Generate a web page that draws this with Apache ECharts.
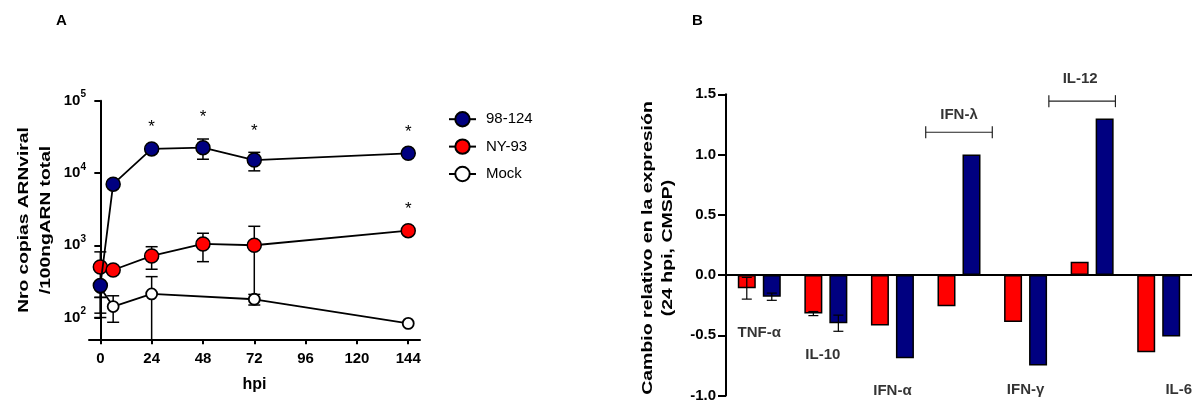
<!DOCTYPE html>
<html><head><meta charset="utf-8">
<script src="https://cdn.jsdelivr.net/npm/echarts@6/dist/echarts.min.js"></script>
<style>html,body{margin:0;padding:0;background:#fff}#c{width:1192px;height:403px}</style>
</head><body><div id="c"></div>
<script>
// ---------- Panel A data ----------
const hpi = [0, 6, 24, 48, 72, 144];
const xTicksA = [0, 24, 48, 72, 96, 120, 144];
const yDecadesA = [100, 1000, 10000, 100000];
const v98 = [277, 7000, 21500, 22400, 15100, 18700];
const v98Lo = [100, null, null, 15500, 10700, null];
const v98Hi = [null, null, null, 29500, 19300, null];
const vNY = [500, 455, 711, 1042, 1000, 1592];
const vNYLo = [190, null, 466, 593, 180, null];
const vNYHi = [810, null, 955, 1466, 1830, null];
const vMock = [260, 142, 212, null, 179, 83];
const vMockLo = [115, 86, 30, null, 149, null];
const vMockHi = [190, 200, 368, null, 209, null];
const sig98 = [false, false, true, true, true, true];
const sigNY = [false, false, false, false, false, true];
const namesA = ['98-124', 'NY-93', 'Mock'];

// ---------- Panel B data ----------
const cytokines = ['TNF-α', 'IL-10', 'IFN-α', 'IFN-λ', 'IFN-γ', 'IL-12', 'IL-6'];
const bRed = [-0.11, -0.32, -0.42, -0.26, -0.39, 0.11, -0.64];
const bBlue = [-0.18, -0.40, -0.69, 1.00, -0.75, 1.30, -0.51];
const bRedErr = [0.09, 0.017, null, null, null, null, null];
const bBlueErr = [0.03, 0.067, null, null, null, null, null];
const catLabelY = [-0.48, -0.66, -0.96, 1.33, -0.95, 1.63, -0.95];
const bracketCats = ['IFN-λ', 'IL-12'];
const bracketY = [1.185, 1.443];

// ---------- styling ----------
const FONT = 'Liberation Sans, Arial, Helvetica, sans-serif';
const NAVY = '#000080', RED = '#ff0000';
const gA = {left: 89, top: 100.7, width: 331, height: 238.6};
const gB = {left: 726, top: 94.3, width: 481, height: 302.5};
const minA = Math.log10(50), maxA = 5;
const pxPerDecade = gA.height / (maxA - minA);
const L = Math.log10;
const labelShift = {'IL-10': -3, 'IL-12': -12, 'IL-6': 20};
const bracketShift = {'IL-12': -10};
const BAR_W = 18, BAR_GAP = 7;

function lineData(vals, sig, hi) {
  const out = [];
  vals.forEach((v, i) => {
    if (v == null) return;
    const extra = hi[i] != null ? Math.max(0, L(hi[i]) - L(v)) * pxPerDecade : 0;
    out.push({
      value: [hpi[i], L(v)],
      label: {show: sig ? sig[i] : false, formatter: '*', position: 'top',
              distance: 5 + extra, fontSize: 17, color: '#000', fontFamily: FONT}
    });
  });
  return out;
}
function errData(vals, lo, hi) {
  const out = [];
  vals.forEach((v, i) => {
    if (v == null) return;
    if (lo[i] == null && hi[i] == null) return;
    out.push([hpi[i], L(lo[i] != null ? lo[i] : v), L(hi[i] != null ? hi[i] : v), lo[i] != null ? 1 : 0, hi[i] != null ? 1 : 0]);
  });
  return out;
}
const errA = [].concat(errData(v98, v98Lo, v98Hi), errData(vNY, vNYLo, vNYHi), errData(vMock, vMockLo, vMockHi));

const errB = [];
cytokines.forEach((c, i) => {
  if (bRedErr[i] != null) errB.push([i, bRed[i] - bRedErr[i], bRed[i] + bRedErr[i], -1]);
  if (bBlueErr[i] != null) errB.push([i, bBlue[i] - bBlueErr[i], bBlue[i] + bBlueErr[i], 1]);
});

const axisLineStyle = {color: '#000', width: 2};
const tickLbl = {color: '#000', fontWeight: 'bold', fontSize: 15, fontFamily: FONT};

const lineBase = {
  type: 'line', xAxisIndex: 0, yAxisIndex: 0, symbol: 'circle',
  lineStyle: {color: '#000', width: 1.8}, animation: false
};

const option = {
  animation: false,
  backgroundColor: '#fff',
  textStyle: {fontFamily: FONT},
  grid: [
    Object.assign({}, gA, {containLabel: false}),
    Object.assign({}, gB, {containLabel: false})
  ],
  legend: {
    data: namesA, orient: 'vertical', left: 443, top: 106,
    itemWidth: 27, itemHeight: 18, itemGap: 11, selectedMode: false,
    textStyle: {fontSize: 15, color: '#000', fontFamily: FONT, padding: [0, 0, 0, 5]}
  },
  xAxis: [
    {
      type: 'value', gridIndex: 0, min: -5.3, max: 149.5,
      name: 'hpi', nameLocation: 'middle', nameGap: 37,
      nameTextStyle: {fontWeight: 'bold', fontSize: 16, color: '#000', fontFamily: FONT},
      axisLine: {show: true, onZero: false, lineStyle: axisLineStyle},
      axisTick: {show: true, length: 5, lineStyle: {color: '#000', width: 2}, customValues: xTicksA},
      axisLabel: Object.assign({margin: 12, customValues: xTicksA}, tickLbl),
      splitLine: {show: false}
    },
    {
      type: 'category', gridIndex: 1, data: cytokines, boundaryGap: true,
      axisLine: {show: true, onZero: true, lineStyle: {color: '#000', width: 2}},
      axisTick: {show: false}, axisLabel: {show: false}, splitLine: {show: false}
    }
  ],
  yAxis: [
    {
      type: 'value', gridIndex: 0, min: minA, max: maxA,
      axisLine: {show: true, lineStyle: axisLineStyle},
      axisTick: {show: true, length: 6, lineStyle: {color: '#000', width: 2}, customValues: yDecadesA.map(L)},
      axisLabel: {
        margin: 3, customValues: yDecadesA.map(L),
        formatter: v => '{b|10}{s|' + Math.round(v) + '}',
        rich: {
          b: {fontSize: 15, fontWeight: 'bold', color: '#000', fontFamily: FONT, lineHeight: 22},
          s: {fontSize: 10, fontWeight: 'bold', color: '#000', fontFamily: FONT, verticalAlign: 'top', lineHeight: 22}
        }
      },
      splitLine: {show: false}
    },
    {
      type: 'value', gridIndex: 1, min: -1, max: 1.5, interval: 0.5,
      axisLine: {show: true, lineStyle: axisLineStyle},
      axisTick: {show: true, length: 8, lineStyle: {color: '#000', width: 2}},
      axisLabel: Object.assign({margin: 10, formatter: v => v.toFixed(1)}, tickLbl),
      splitLine: {show: false}
    }
  ],
  graphic: [
    {type: 'text', left: 56, top: 13, style: {text: 'A', font: 'bold 15px ' + FONT, fill: '#000'}},
    {type: 'text', left: 692, top: 13, style: {text: 'B', font: 'bold 15px ' + FONT, fill: '#000'}},
    {type: 'text', x: 35, y: 220, rotation: Math.PI / 2, scaleX: 1.28,
     style: {text: 'Nro copias ARNviral\n/100ngARN total', font: 'bold 15px ' + FONT, fill: '#000',
             align: 'center', verticalAlign: 'middle', textAlign: 'center', textVerticalAlign: 'middle', lineHeight: 22}},
    {type: 'text', x: 658, y: 248, rotation: Math.PI / 2, scaleX: 1.3,
     style: {text: 'Cambio relativo en la expresión\n(24 hpi, CMSP)', font: 'bold 15px ' + FONT, fill: '#000',
             align: 'center', verticalAlign: 'middle', textAlign: 'center', textVerticalAlign: 'middle', lineHeight: 20}}
  ],
  series: [
    {
      type: 'custom', name: 'errA', xAxisIndex: 0, yAxisIndex: 0, z: 1, data: errA,
      renderItem(params, api) {
        const x = api.value(0);
        let lo = api.value(1), hi = api.value(2);
        const hasLo = api.value(3), hasHi = api.value(4);
        const loClip = lo < minA;
        if (loClip) lo = minA;
        const pL = api.coord([x, lo]), pH = api.coord([x, hi]);
        const st = {stroke: '#000', lineWidth: 1.5, fill: null};
        const ch = [{type: 'line', shape: {x1: pL[0], y1: pL[1], x2: pH[0], y2: pH[1]}, style: st}];
        const w = 6;
        if (hasHi) ch.push({type: 'line', shape: {x1: pH[0] - w, y1: pH[1], x2: pH[0] + w, y2: pH[1]}, style: st});
        if (hasLo && !loClip) ch.push({type: 'line', shape: {x1: pL[0] - w, y1: pL[1], x2: pL[0] + w, y2: pL[1]}, style: st});
        return {type: 'group', children: ch};
      }
    },
    Object.assign({}, lineBase, {
      name: 'Mock', z: 2, symbolSize: 11, data: lineData(vMock, null, vMockHi),
      itemStyle: {color: '#fff', borderColor: '#000', borderWidth: 1.8}
    }),
    Object.assign({}, lineBase, {
      name: 'NY-93', z: 3, symbolSize: 14, data: lineData(vNY, sigNY, vNYHi),
      itemStyle: {color: RED, borderColor: '#000', borderWidth: 1.5}
    }),
    Object.assign({}, lineBase, {
      name: '98-124', z: 4, symbolSize: 14, data: lineData(v98, sig98, v98Hi),
      itemStyle: {color: NAVY, borderColor: '#000', borderWidth: 1.5}
    }),
    {
      type: 'bar', name: 'NY-93 (B)', xAxisIndex: 1, yAxisIndex: 1, data: bRed,
      barWidth: BAR_W, barGap: (BAR_GAP / BAR_W * 100) + '%',
      itemStyle: {color: RED, borderColor: '#000', borderWidth: 1.5}
    },
    {
      type: 'bar', name: '98-124 (B)', xAxisIndex: 1, yAxisIndex: 1, data: bBlue,
      barWidth: BAR_W, barGap: (BAR_GAP / BAR_W * 100) + '%',
      itemStyle: {color: NAVY, borderColor: '#000', borderWidth: 1.5}
    },
    {
      type: 'custom', name: 'errB', xAxisIndex: 1, yAxisIndex: 1, z: 5, data: errB,
      renderItem(params, api) {
        const c = api.value(0), lo = api.value(1), hi = api.value(2), side = api.value(3);
        const off = side * (BAR_W + BAR_GAP) / 2;
        const pL = api.coord([c, lo]), pH = api.coord([c, hi]);
        const x = pL[0] + off, w = 5;
        const st = {stroke: '#000', lineWidth: 1.2, fill: null};
        return {type: 'group', children: [
          {type: 'line', shape: {x1: x, y1: pL[1], x2: x, y2: pH[1]}, style: st},
          {type: 'line', shape: {x1: x - w, y1: pL[1], x2: x + w, y2: pL[1]}, style: st},
          {type: 'line', shape: {x1: x - w, y1: pH[1], x2: x + w, y2: pH[1]}, style: st}
        ]};
      }
    },
    {
      type: 'custom', name: 'brackets', xAxisIndex: 1, yAxisIndex: 1, z: 5, clip: false,
      data: bracketCats.map((c, i) => [cytokines.indexOf(c), bracketY[i]]),
      renderItem(params, api) {
        const idx = api.value(0);
        const p = api.coord([idx, api.value(1)]);
        const bw = api.size([1, 0])[0];
        const sh = bracketShift[cytokines[idx]] || 0;
        const x1 = p[0] - bw / 2 + sh, x2 = p[0] + bw / 2 + sh, y = p[1], h = 6;
        const st = {stroke: '#222', lineWidth: 1.2, fill: null};
        return {type: 'group', children: [
          {type: 'line', shape: {x1: x1, y1: y, x2: x2, y2: y}, style: st},
          {type: 'line', shape: {x1: x1, y1: y - h, x2: x1, y2: y + h}, style: st},
          {type: 'line', shape: {x1: x2, y1: y - h, x2: x2, y2: y + h}, style: st}
        ]};
      }
    },
    {
      type: 'scatter', name: 'catLabels', xAxisIndex: 1, yAxisIndex: 1, z: 6, clip: false,
      symbolSize: 0, silent: true,
      data: cytokines.map((c, i) => ({
        value: [i, catLabelY[i]], name: c,
        label: {offset: [labelShift[c] || 0, 0]}
      })),
      label: {show: true, position: 'inside', formatter: p => p.name,
              fontWeight: 'bold', fontSize: 15, color: '#000', fontFamily: FONT}
    }
  ]
};

const chart = echarts.init(document.getElementById('c'), null, {renderer: 'canvas'});
chart.setOption(option);
</script>
</body></html>
